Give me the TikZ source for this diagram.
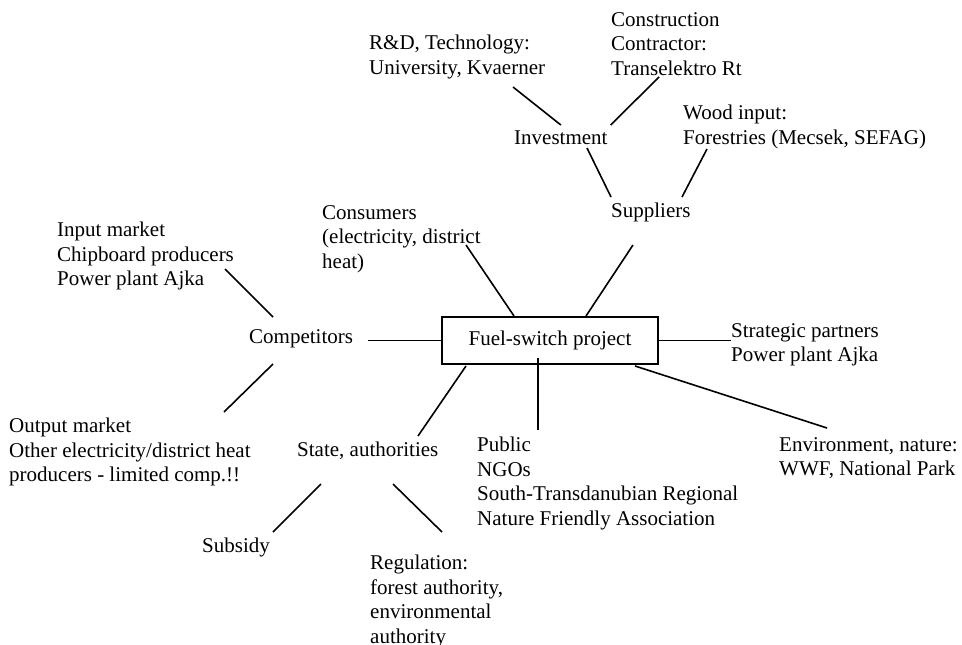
\documentclass[tikz,border=0pt]{standalone}
\usepackage{fontspec}
\setmainfont{Liberation Serif}
\usepackage{tikz}
\usetikzlibrary{positioning,calc}

\begin{document}
\begin{tikzpicture}[x=1pt,y=-1pt,
  actor/.style={align=left, anchor=north west, inner sep=0pt, font=\fontsize{21}{24.5}\selectfont},
  tie/.style={line width=1.6pt}]
\useasboundingbox (0,0) rectangle (962,645);
\node[draw, line width=2pt, minimum width=216pt, minimum height=47pt, inner sep=0pt,
  font=\fontsize{21}{24.5}\selectfont] (fsp) at (550,340.5) {Fuel-switch project};
\node[actor] (rd) at (369,35) {R\&D, Technology:\\University, Kvaerner};
\node[actor] (constr) at (611,12) {Construction\\Contractor:\\Transelektro Rt};
\node[actor] (inv) at (514,131) {Investment};
\node[actor] (wood) at (683,105) {Wood input:\\Forestries (Mecsek, SEFAG)};
\node[actor] (supp) at (611,203) {Suppliers};
\node[actor] (cons) at (322,205) {Consumers\\(electricity, district\\heat)};
\node[actor] (inp) at (57,222) {Input market\\Chipboard producers\\Power plant Ajka};
\node[actor] (comp) at (249,329) {Competitors};
\node[actor] (strat) at (731,323) {Strategic partners\\Power plant Ajka};
\node[actor] (outp) at (9,418) {Output market\\Other electricity/district heat\\producers - limited comp.!!};
\node[actor] (state) at (297,442) {State, authorities};
\node[actor] (pub) at (477,437) {Public\\NGOs\\South-Transdanubian Regional\\Nature Friendly Association};
\node[actor] (env) at (779,437) {Environment, nature:\\WWF, National Park};
\node[actor] (subs) at (202,538) {Subsidy};
\node[actor] (reg) at (370,555) {Regulation:\\forest authority,\\environmental\\authority};

\draw[tie] ([shift={(144,52)}]rd.north west) -- ([yshift=6pt]inv.north);
\draw[tie] ([shift={(48,65)}]constr.north west) -- ([shift={(3,-6)}]inv.north east);
\draw[tie] ([shift={(73,17)}]inv.north west) -- ([shift={(0,-6)}]supp.north west);
\draw[tie] ([shift={(24,44)}]wood.north west) -- ([shift={(71,-6)}]supp.north west);
\draw[tie] ([shift={(144,40)}]cons.north west) -- ([xshift=-36pt]fsp.north);
\draw[tie] ([shift={(22,42)}]supp.north west) -- ([xshift=36pt]fsp.north);
\draw[tie] ([shift={(168,47)}]inp.north west) -- ([shift={(24,-12)}]comp.north west);
\draw[tie] ([shift={(215,-6)}]outp.north west) -- ([shift={(24,35)}]comp.north west);
\draw[tie, shorten >=15pt] (fsp.west) -- (fsp.west -| comp.east);
\draw[tie] (fsp.east) -- (fsp.east -| strat.west);
\draw[tie] ([shift={(-84,1)}]fsp.south) -- ([shift={(121,-6)}]state.north west);
\draw[tie] ([shift={(-12,-7)}]fsp.south) -- ([shift={(61,-7)}]pub.north west);
\draw[tie] ([shift={(-24,1)}]fsp.south east) -- ([shift={(48,-9)}]env.north west);
\draw[tie] ([shift={(24,42)}]state.north west) -- ([shift={(71,-6)}]subs.north west);
\draw[tie] ([shift={(96,42)}]state.north west) -- ([shift={(72,-23)}]reg.north west);
\end{tikzpicture}
\end{document}
